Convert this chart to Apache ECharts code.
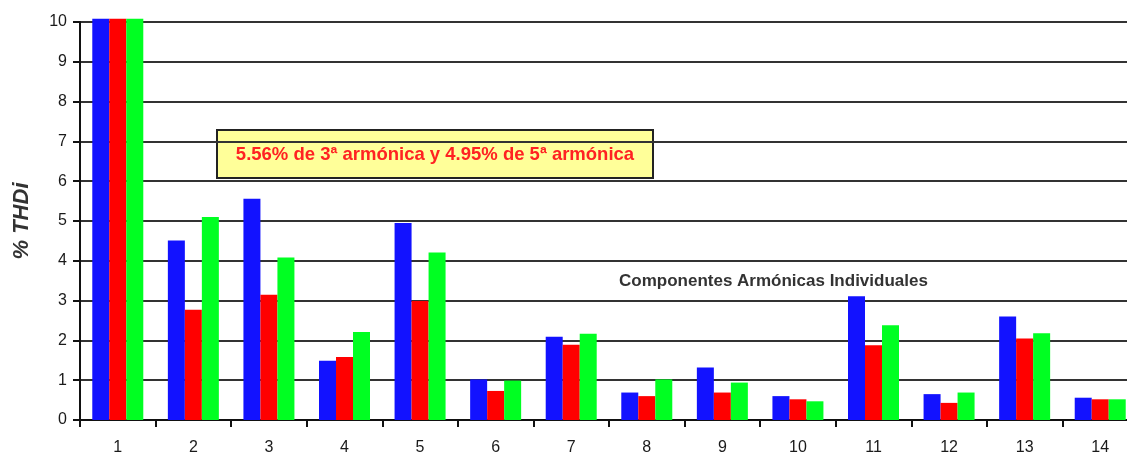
<!DOCTYPE html>
<html>
<head>
<meta charset="utf-8">
<style>
  html, body { margin: 0; padding: 0; background: #fff; }
  #main { width: 1127px; height: 453px; }
</style>
<script src="https://cdn.jsdelivr.net/npm/echarts@6/dist/echarts.min.js"></script>
</head>
<body>
<div id="main"></div>
<script>
// armónicas 1..14
var categories = ['1', '2', '3', '4', '5', '6', '7', '8', '9', '10', '11', '12', '13', '14'];
// % THDi por fase (la fundamental sale del gráfico)
var faseAzul  = [10.08, 4.51, 5.56, 1.49, 4.95, 1.02, 2.09, 0.69, 1.32, 0.60, 3.11, 0.65, 2.60, 0.56];
var faseRoja  = [10.08, 2.77, 3.15, 1.58, 2.99, 0.73, 1.89, 0.60, 0.69, 0.52, 1.88, 0.43, 2.05, 0.52];
var faseVerde = [10.08, 5.10, 4.08, 2.21, 4.21, 0.99, 2.17, 1.02, 0.94, 0.47, 2.38, 0.69, 2.18, 0.52];
var yTicks = [0, 10, 1]; // min, max, interval

var chart = echarts.init(document.getElementById('main'));

function barSerie(name, data, color) {
  return {
    name: name,
    type: 'bar',
    data: data,
    barWidth: 17,
    barGap: '0%',
    clip: false,
    itemStyle: { color: color },
    emphasis: { disabled: true }
  };
}

chart.setOption({
  animation: false,
  // el eje llega más allá del borde derecho (la 14 queda cortada)
  grid: { left: 80, width: 1058, top: 22, bottom: 33, outerBoundsMode: 'none', containLabel: false },
  xAxis: {
    type: 'category',
    data: categories,
    boundaryGap: true,
    axisLine: { lineStyle: { color: '#111', width: 2 } },
    axisTick: { show: true, length: 7, lineStyle: { color: '#111', width: 2 } },
    axisLabel: {
      margin: 20,
      color: '#1a1a1a',
      fontSize: 16,
      fontFamily: 'Liberation Sans, Arial, sans-serif'
    },
    splitLine: { show: false }
  },
  yAxis: {
    type: 'value',
    min: yTicks[0],
    max: yTicks[1],
    interval: yTicks[2],
    name: '% THDi',
    nameLocation: 'middle',
    nameGap: 47,
    nameRotate: 90,
    nameTextStyle: {
      fontSize: 22,
      fontWeight: 'bold',
      fontStyle: 'italic',
      color: '#333',
      fontFamily: 'Liberation Sans, Arial, sans-serif'
    },
    axisLine: { show: true, lineStyle: { color: '#111', width: 2 } },
    axisTick: { show: true, length: 7, lineStyle: { color: '#111', width: 2 } },
    axisLabel: {
      margin: 13,
      color: '#1a1a1a',
      fontSize: 16,
      fontFamily: 'Liberation Sans, Arial, sans-serif'
    },
    splitLine: { lineStyle: { color: '#333', width: 2 } }
  },
  series: [
    barSerie('Fase 1', faseAzul, '#1212ff'),
    barSerie('Fase 2', faseRoja, '#ff0000'),
    barSerie('Fase 3', faseVerde, '#00ff22')
  ],
  graphic: [
    {
      type: 'group',
      left: 216,
      top: 129,
      children: [
        {
          type: 'rect',
          shape: { x: 0, y: 0, width: 436, height: 48 },
          style: { fill: '#ffff99', stroke: '#222', lineWidth: 2 }
        },
        {
          type: 'text',
          x: 218,
          y: 25,
          style: {
            text: '5.56% de 3ª armónica y 4.95% de 5ª armónica',
            fill: '#ff2222',
            font: 'bold 18.5px "Liberation Sans", Arial, sans-serif',
            align: 'center',
            verticalAlign: 'middle'
          }
        }
      ]
    },
    {
      type: 'text',
      left: 619,
      top: 273,
      style: {
        text: 'Componentes Armónicas Individuales',
        fill: '#333',
        font: 'bold 17px "Liberation Sans", Arial, sans-serif'
      }
    }
  ]
});
</script>
</body>
</html>
